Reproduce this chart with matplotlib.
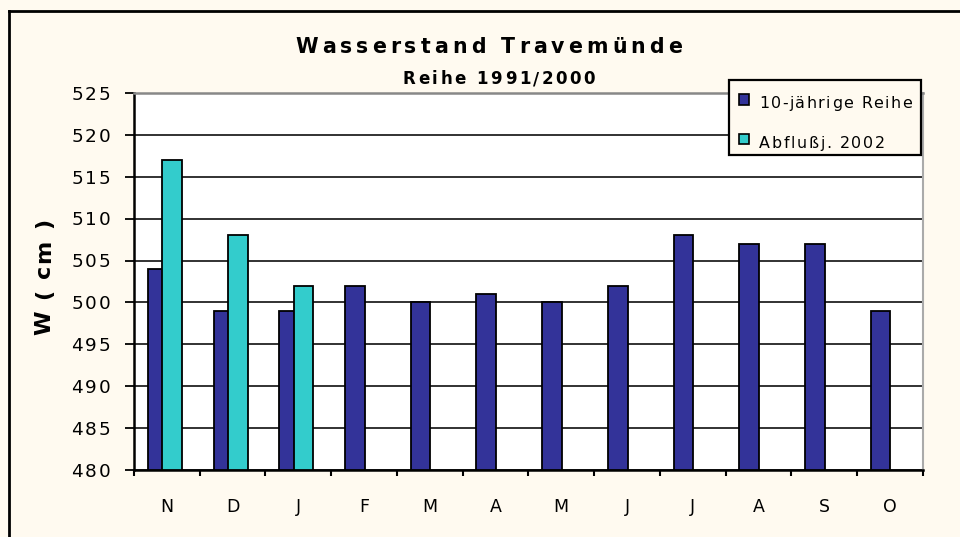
import matplotlib
matplotlib.use("Agg")
import matplotlib.pyplot as plt
import numpy as np
from matplotlib.lines import Line2D
from matplotlib.patches import Rectangle
from matplotlib.transforms import IdentityTransform
from matplotlib.font_manager import FontProperties, findfont, get_font

months = ["N", "D", "J", "F", "M", "A", "M", "J", "J", "A", "S", "O"]
reihe = [504, 499, 499, 502, 500, 501, 500, 502, 508, 507, 507, 499]
abfluss = [517, 508, 502, np.nan, np.nan, np.nan, np.nan, np.nan, np.nan, np.nan, np.nan, np.nan]
yticks = [480, 485, 490, 495, 500, 505, 510, 515, 520, 525]
series_names = ["10-jährige Reihe", "Abflußj. 2002"]
series_colors = ["#333399", "#33CCCC"]
title = "Wasserstand Travemünde"
subtitle = "Reihe 1991/2000"
ylabel = "W ( cm )"

FAMILY = "DejaVu Sans"
plt.rcParams['font.family'] = [FAMILY]

W, H = 960, 537
bg = "#FFFAF0"
fig = plt.figure(figsize=(9.6, 5.37), dpi=100, facecolor=bg)
ax = fig.add_axes([134/W, 1-470/H, (922.7-134)/W, (470-93)/H])
ax.set_facecolor("white")


def tracked_text(x, y_top, s, size, weight="normal", width=None, tracking=0.0,
                 ha="center", vertical=False, zorder=6):
    """Letter-spaced text. Pixel coords, y measured from the top.
    Horizontal: (x, y_top) is the anchor on the baseline.
    Vertical (rotated 90): x is the baseline column, y_top is the anchor along the text."""
    prop = FontProperties(family=FAMILY, weight=weight, size=size)
    font = get_font(findfont(prop))
    font.set_size(size, fig.dpi)
    advs = [font.load_char(ord(ch)).linearHoriAdvance / 65536 for ch in s]
    natural = sum(advs)
    n = len(s)
    if width is not None and n > 1:
        tracking = (width - natural) / (n - 1)
    total = natural + tracking * (n - 1)
    if ha == "center":
        off = -total / 2
    elif ha == "right":
        off = -total
    else:
        off = 0.0
    pos = off
    for ch, adv in zip(s, advs):
        if vertical:
            fig.text(x, H - y_top + pos, ch, transform=IdentityTransform(), fontproperties=prop,
                     ha="left", va="baseline", rotation=90, rotation_mode="anchor", zorder=zorder)
        else:
            fig.text(x + pos, H - y_top, ch, transform=IdentityTransform(), fontproperties=prop,
                     ha="left", va="baseline", zorder=zorder)
        pos += adv + tracking


x = np.arange(len(months))
w = 0.30
base = 480
r = np.array(reihe) - base
a = np.array(abfluss) - base
ax.bar(x - 0.14, r, width=w, bottom=base, color=series_colors[0], edgecolor="black", linewidth=1.3, zorder=3)
ax.bar(x + 0.08, a, width=w, bottom=base, color=series_colors[1], edgecolor="black", linewidth=1.3, zorder=4)

ax.set_xlim(-0.5, len(months) - 0.5)
ax.set_ylim(480, 525)
ax.set_yticks(yticks)
ax.set_yticklabels([])
ax.yaxis.grid(True, color="#222222", linewidth=1.3, zorder=1)
ax.set_axisbelow(True)

ax.set_xticks(x)
ax.set_xticklabels(months, fontsize=12.5)
ax.tick_params(axis="x", which="major", length=0, pad=20)
ax.set_xticks(np.arange(-0.5, len(months)), minor=True)
ax.tick_params(axis="x", which="minor", length=4.5, width=1.5, direction="out", color="black")
ax.tick_params(axis="y", length=6.5, width=1.3, direction="out", color="black")

for s in ["left", "bottom"]:
    ax.spines[s].set_color("black")
    ax.spines[s].set_linewidth(1.8)
ax.spines["top"].set_color("#888888")
ax.spines["top"].set_linewidth(1.8)
ax.spines["right"].set_color("#AAAAAA")
ax.spines["right"].set_linewidth(1.5)

# y tick labels (letter-spaced like the original)
tick_fs = 13.3
cap = 0.729 * tick_fs * fig.dpi / 72
for v in yticks:
    _, ydisp = ax.transData.transform((0, v))
    tracked_text(110.7, H - ydisp + cap / 2, str(v), tick_fs, width=39.5, ha="right")

# y label (rotated, letter-spaced)
tracked_text(50, 335, ylabel, 16, weight="bold", width=117, ha="left", vertical=True)

# titles
tracked_text(488.5, 52.7, title, 14.8, weight="bold", width=387)
tracked_text(499, 84, subtitle, 12, weight="bold", width=192)

# legend box
fig.add_artist(Rectangle((729, H - 155), 192, 75, transform=IdentityTransform(),
                         facecolor=bg, edgecolor="black", linewidth=1.6, zorder=5))
leg_rows = [(99.7, 108, 153), (139, 148, 126)]
for (cy, base_y, tw), name, col in zip(leg_rows, series_names, series_colors):
    fig.add_artist(Rectangle((738.5, H - cy - 5.3), 10.6, 10.6, transform=IdentityTransform(),
                             facecolor=col, edgecolor="black", linewidth=1.2, zorder=6))
    tracked_text(759, base_y, name, 11.4, width=tw, ha="left")

# outer chart frame
fig.add_artist(Line2D([9/W, 1.0], [1-11/H, 1-11/H], transform=fig.transFigure, color="black", linewidth=2))
fig.add_artist(Line2D([9/W, 9/W], [0, 1-11/H], transform=fig.transFigure, color="black", linewidth=2))

fig.savefig("out.png", dpi=100, facecolor=bg)
